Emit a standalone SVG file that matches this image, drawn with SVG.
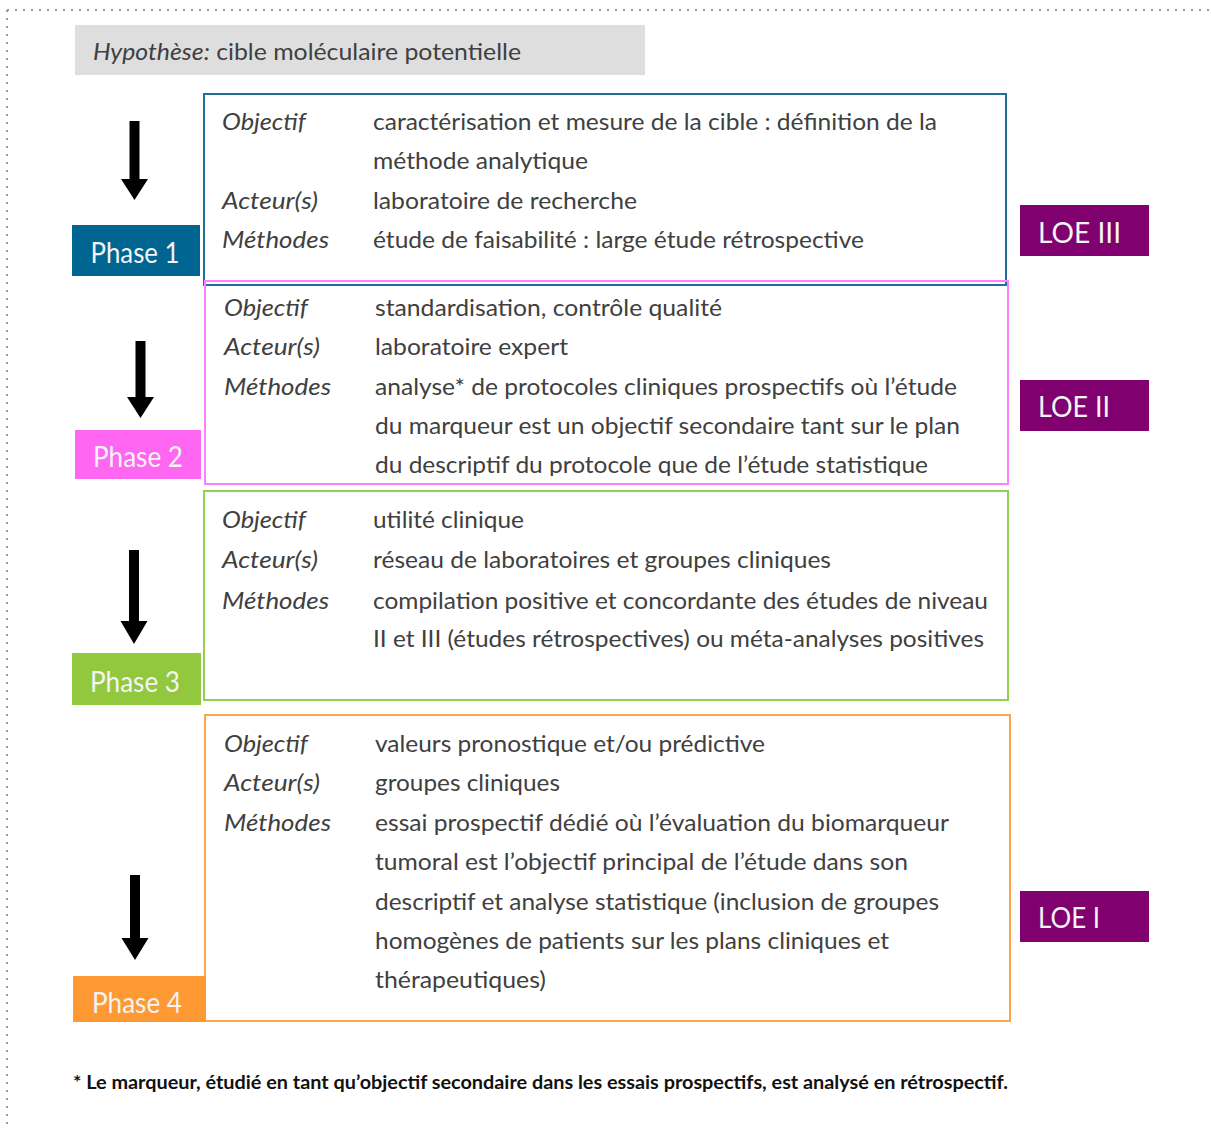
<svg xmlns="http://www.w3.org/2000/svg" width="1211" height="1129" viewBox="0 0 1211 1129">
<style>
  text { font-family: Lato, "Liberation Sans", sans-serif; }
  .t { font-size: 24px; fill: #404040; }
  .lab { font-size: 24px; fill: #404040; font-style: italic; }
  .ph { font-size: 28px; fill: #f4f4f4; text-anchor: middle; }
  .loe { font-size: 28px; fill: #f4f4f4; }
  .box { fill: none; stroke-width: 2; }
  .arrow { fill: #000; }
</style>
<defs>
  <clipPath id="clip2"><rect x="205" y="281" width="803" height="195"/></clipPath>
</defs>
<rect width="1211" height="1129" fill="#fff"/>
<g id="frame">
  <line x1="7" y1="10" x2="1211" y2="10" stroke="#9a9a9a" stroke-width="2" stroke-dasharray="2 6"/>
  <line x1="7" y1="10" x2="7" y2="1129" stroke="#9a9a9a" stroke-width="2" stroke-dasharray="2 6"/>
</g>
<g id="hypothese">
  <rect x="75" y="25" width="570" height="50" fill="#dedede"/>
  <text class="t" x="93" y="60" textLength="428" lengthAdjust="spacingAndGlyphs"><tspan font-style="italic">Hypothèse:</tspan> cible moléculaire potentielle</text>
</g>
<g id="connectors">
  <path class="arrow" d="M129.5,121 H139.5 V179 H148 L134.5,200 L121,179 H129.5 Z"/>
  <path class="arrow" d="M135.5,341 H145.5 V397 H154 L140.5,418 L127,397 H135.5 Z"/>
  <path class="arrow" d="M129,550 H139 V621 H147.5 L134,644 L120.5,621 H129 Z"/>
  <path class="arrow" d="M130,875 H140 V938 H148.5 L135,960 L121.5,938 H130 Z"/>
</g>
<g id="box1">
  <rect class="box" x="204" y="94" width="802" height="191" stroke="#1f6f9b"/>
  <text class="lab" x="222" y="130" textLength="84" lengthAdjust="spacingAndGlyphs">Objectif</text>
  <text class="lab" x="222" y="209" textLength="96" lengthAdjust="spacingAndGlyphs">Acteur(s)</text>
  <text class="lab" x="222" y="248" textLength="107" lengthAdjust="spacingAndGlyphs">Méthodes</text>
  <text class="t" x="373" y="130" textLength="564" lengthAdjust="spacingAndGlyphs">caractérisation et mesure de la cible : définition de la</text>
  <text class="t" x="373" y="169" textLength="215" lengthAdjust="spacingAndGlyphs">méthode analytique</text>
  <text class="t" x="373" y="209" textLength="264" lengthAdjust="spacingAndGlyphs">laboratoire de recherche</text>
  <text class="t" x="373" y="248" textLength="491" lengthAdjust="spacingAndGlyphs">étude de faisabilité : large étude rétrospective</text>
</g>
<g id="box2">
  <rect class="box" x="205" y="281" width="803" height="203" stroke="#ff80ff"/>
  <text class="lab" x="224" y="316" textLength="84" lengthAdjust="spacingAndGlyphs">Objectif</text>
  <text class="lab" x="224" y="355" textLength="96" lengthAdjust="spacingAndGlyphs">Acteur(s)</text>
  <text class="lab" x="224" y="395" textLength="107" lengthAdjust="spacingAndGlyphs">Méthodes</text>
  <text class="t" x="375" y="316" textLength="347" lengthAdjust="spacingAndGlyphs">standardisation, contrôle qualité</text>
  <text class="t" x="375" y="355" textLength="193" lengthAdjust="spacingAndGlyphs">laboratoire expert</text>
  <text class="t" x="375" y="395" textLength="582" lengthAdjust="spacingAndGlyphs">analyse* de protocoles cliniques prospectifs où l’étude</text>
  <text class="t" x="375" y="434" textLength="585" lengthAdjust="spacingAndGlyphs">du marqueur est un objectif secondaire tant sur le plan</text>
  <text class="t" x="375" y="473" textLength="553" lengthAdjust="spacingAndGlyphs" clip-path="url(#clip2)">du descriptif du protocole que de l’étude statistique</text>
</g>
<g id="box3">
  <rect class="box" x="204" y="491" width="804" height="209" stroke="#92d050"/>
  <text class="lab" x="222" y="528" textLength="84" lengthAdjust="spacingAndGlyphs">Objectif</text>
  <text class="lab" x="222" y="568" textLength="96" lengthAdjust="spacingAndGlyphs">Acteur(s)</text>
  <text class="lab" x="222" y="609" textLength="107" lengthAdjust="spacingAndGlyphs">Méthodes</text>
  <text class="t" x="373" y="528" textLength="151" lengthAdjust="spacingAndGlyphs">utilité clinique</text>
  <text class="t" x="373" y="568" textLength="458" lengthAdjust="spacingAndGlyphs">réseau de laboratoires et groupes cliniques</text>
  <text class="t" x="373" y="609" textLength="615" lengthAdjust="spacingAndGlyphs">compilation positive et concordante des études de niveau</text>
  <text class="t" x="373" y="647" textLength="611" lengthAdjust="spacingAndGlyphs">II et III (études rétrospectives) ou méta-analyses positives</text>
</g>
<g id="box4">
  <rect class="box" x="205" y="715" width="805" height="306" stroke="#ffa64d"/>
  <text class="lab" x="224" y="752" textLength="84" lengthAdjust="spacingAndGlyphs">Objectif</text>
  <text class="lab" x="224" y="791" textLength="96" lengthAdjust="spacingAndGlyphs">Acteur(s)</text>
  <text class="lab" x="224" y="831" textLength="107" lengthAdjust="spacingAndGlyphs">Méthodes</text>
  <text class="t" x="375" y="752" textLength="390" lengthAdjust="spacingAndGlyphs">valeurs pronostique et/ou prédictive</text>
  <text class="t" x="375" y="791" textLength="185" lengthAdjust="spacingAndGlyphs">groupes cliniques</text>
  <text class="t" x="375" y="831" textLength="574" lengthAdjust="spacingAndGlyphs">essai prospectif dédié où l’évaluation du biomarqueur</text>
  <text class="t" x="375" y="870" textLength="533" lengthAdjust="spacingAndGlyphs">tumoral est l’objectif principal de l’étude dans son</text>
  <text class="t" x="375" y="910" textLength="564" lengthAdjust="spacingAndGlyphs">descriptif et analyse statistique (inclusion de groupes</text>
  <text class="t" x="375" y="949" textLength="514" lengthAdjust="spacingAndGlyphs">homogènes de patients sur les plans cliniques et</text>
  <text class="t" x="375" y="988" textLength="171" lengthAdjust="spacingAndGlyphs">thérapeutiques)</text>
</g>
<g id="phase1">
  <rect x="72" y="225" width="128" height="51" fill="#006591"/>
  <text class="ph" x="135" y="263" textLength="89" lengthAdjust="spacingAndGlyphs">Phase 1</text>
</g>
<g id="phase2">
  <rect x="75" y="430" width="126" height="49" fill="#ff66f2"/>
  <text class="ph" x="138" y="467" textLength="90" lengthAdjust="spacingAndGlyphs">Phase 2</text>
</g>
<g id="phase3">
  <rect x="72" y="653" width="129" height="52" fill="#92c83e"/>
  <text class="ph" x="135" y="692" textLength="90" lengthAdjust="spacingAndGlyphs">Phase 3</text>
</g>
<g id="phase4">
  <rect x="73" y="976" width="133" height="46" fill="#ff9933"/>
  <text class="ph" x="137" y="1013" textLength="90" lengthAdjust="spacingAndGlyphs">Phase 4</text>
</g>
<g id="loe3">
  <rect x="1020" y="205" width="129" height="51" fill="#800070"/>
  <text class="loe" x="1038" y="243" textLength="83" lengthAdjust="spacingAndGlyphs">LOE III</text>
</g>
<g id="loe2">
  <rect x="1020" y="380" width="129" height="51" fill="#800070"/>
  <text class="loe" x="1038" y="417" textLength="72" lengthAdjust="spacingAndGlyphs">LOE II</text>
</g>
<g id="loe1">
  <rect x="1020" y="891" width="129" height="51" fill="#800070"/>
  <text class="loe" x="1038" y="928" textLength="62" lengthAdjust="spacingAndGlyphs">LOE I</text>
</g>
<g id="footnote">
  <text x="73" y="1089" font-size="19" font-weight="bold" fill="#111" textLength="935" lengthAdjust="spacingAndGlyphs">* Le marqueur, étudié en tant qu’objectif secondaire dans les essais prospectifs, est analysé en rétrospectif.</text>
</g>
</svg>
